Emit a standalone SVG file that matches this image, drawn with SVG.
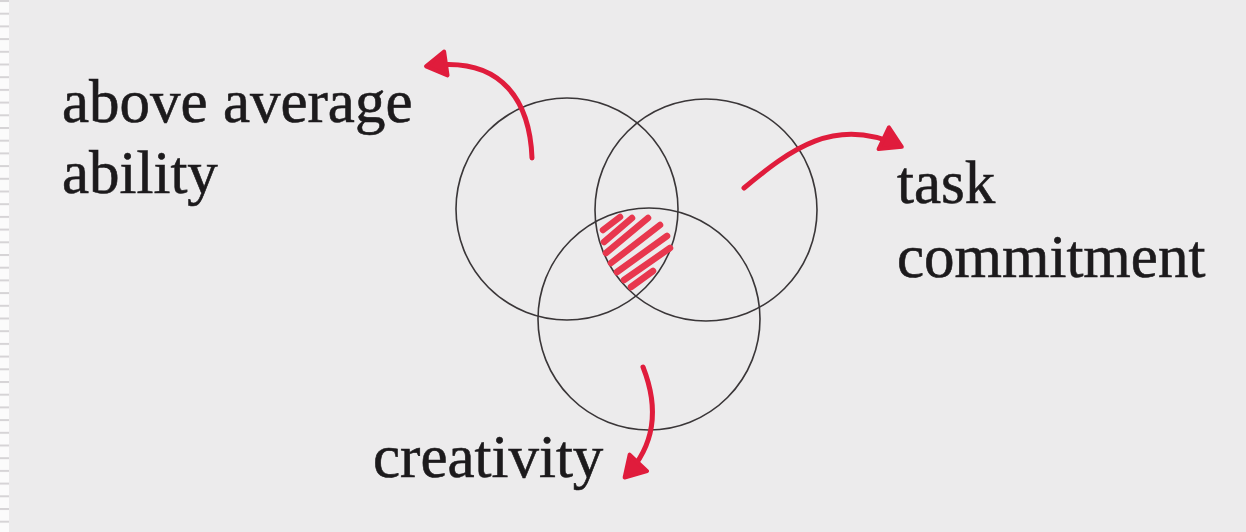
<svg xmlns="http://www.w3.org/2000/svg" width="1246" height="532" viewBox="0 0 1246 532">
  <style>
    .lbl { font-family: "Liberation Serif", "Times New Roman", serif; font-size: 61px; fill: #1c1a1c; stroke: #1c1a1c; stroke-width: 0.6; }
    .circ { fill: none; stroke: #3a3638; stroke-width: 1.6; }
    .arrow { fill: none; stroke: #e01c3c; stroke-width: 5; stroke-linecap: round; }
    .hatch { stroke: #e8374e; stroke-width: 6.5; stroke-linecap: round; }
  </style>
  <defs>
    <pattern id="stripes" width="10" height="12.7" patternUnits="userSpaceOnUse">
      <rect width="10" height="12.7" fill="#fbfbfb"/>
      <rect y="0" width="10" height="2" fill="#d6d4d6"/>
    </pattern>
    <marker id="head" markerUnits="userSpaceOnUse" markerWidth="34" markerHeight="34" viewBox="-26 -17 34 34" refX="0" refY="0" orient="auto">
      <path d="M2,0 L-18,-12 L-18,12 Z" fill="#e01c3c" stroke="#e01c3c" stroke-width="4" stroke-linejoin="round"/>
    </marker>
  </defs>
  <rect width="1246" height="532" fill="#ecebec"/>
  <rect x="0" y="0" width="9" height="532" fill="url(#stripes)"/>

  <g id="circle-ability">
    <circle class="circ" cx="567" cy="209" r="111"/>
  </g>
  <g id="circle-task">
    <circle class="circ" cx="706" cy="210" r="111"/>
  </g>
  <g id="circle-creativity">
    <circle class="circ" cx="649" cy="319" r="111"/>
  </g>

  <g id="intersection">
    <line class="hatch" x1="603" y1="230" x2="620" y2="217"/>
    <line class="hatch" x1="604" y1="242" x2="632" y2="218"/>
    <line class="hatch" x1="606" y1="253" x2="648" y2="218"/>
    <line class="hatch" x1="611" y1="263" x2="660" y2="225"/>
    <line class="hatch" x1="617" y1="272" x2="667" y2="236"/>
    <line class="hatch" x1="624" y1="280" x2="670" y2="248"/>
    <line class="hatch" x1="631" y1="287" x2="653" y2="271"/>
  </g>

  <g id="connectors">
    <path class="arrow" d="M532,158 C530,105 505,55 428,66" marker-end="url(#head)"/>
    <path class="arrow" d="M744,188 C790,150 835,115 900,146" marker-end="url(#head)"/>
    <path class="arrow" d="M643,367 C656,400 660,440 626,476" marker-end="url(#head)"/>
  </g>

  <g id="label-ability">
    <text class="lbl" x="62" y="122">above average</text>
    <text class="lbl" x="62" y="193">ability</text>
  </g>
  <g id="label-task">
    <text class="lbl" x="897" y="203">task</text>
    <text class="lbl" x="897" y="277">commitment</text>
  </g>
  <g id="label-creativity">
    <text class="lbl" x="373" y="477">creativity</text>
  </g>
</svg>
